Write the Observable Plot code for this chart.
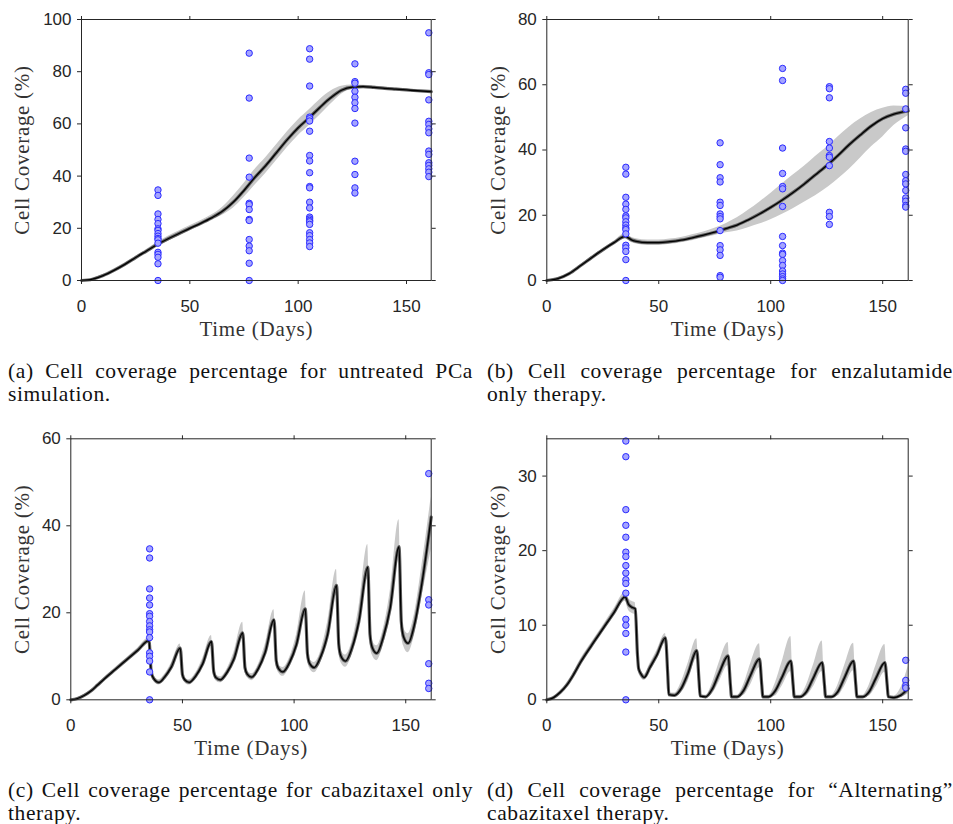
<!DOCTYPE html>
<html>
<head>
<meta charset="utf-8">
<script src="https://cdn.jsdelivr.net/npm/d3@7"></script>
<script src="https://cdn.jsdelivr.net/npm/@observablehq/plot@0.6"></script>
<style>
  body { margin: 0; background: #fff; }
  #wrap { position: relative; width: 953px; height: 824px; overflow: hidden; background: #fff; }
  .panel { position: absolute; }
  .panel svg g[aria-label="text"] text { letter-spacing: 0.7px; }
  .cap { position: absolute; font-family: "Liberation Serif", "Times New Roman", serif; font-size: 21.5px; line-height: 22.5px; color: #111; letter-spacing: 0.6px; }
  .cap .l1 { text-align: justify; text-align-last: justify; }
</style>
</head>
<body>
<div id="wrap"></div>
<script>
// ---------- data ----------
const xTicks = [0, 50, 100, 150];
const yTicksA = [0, 20, 40, 60, 80, 100];
const yTicksB = [0, 20, 40, 60, 80];
const yTicksC = [0, 20, 40, 60];
const yTicksD = [0, 10, 20, 30];

const obsDays = [35.3, 77.4, 105.3, 126.2, 160.3];
const obs35 = [34.7, 32.6, 25.5, 23.4, 21.8, 19.8, 19.2, 18.0, 17.0, 16.1, 15.6, 14.3, 10.8, 10.0, 8.9, 6.4, 0];
const obsA77 = [87.1, 69.9, 46.9, 39.6, 29.6, 29.1, 27.2, 23.4, 23.0, 15.7, 13.2, 11.4, 6.6, 0];
const obsA105 = [88.8, 84.8, 74.5, 62.6, 62.0, 61.1, 57.2, 47.9, 45.8, 41.3, 36.0, 35.5, 30.0, 27.8, 24.3, 23.6, 23.0, 22.5, 21.5, 18.3, 17.2, 15.7, 14.4, 13.0];
const obsA126 = [83.0, 76.2, 75.6, 72.5, 70.2, 68.1, 65.9, 60.3, 45.7, 40.6, 35.5, 33.5];
const obsA160 = [94.9, 79.6, 78.9, 69.2, 61.0, 59.8, 58.1, 56.6, 49.6, 48.3, 45.1, 44.1, 42.8, 41.5, 39.8];
const obsB77 = [42.2, 35.5, 31.5, 30.2, 24.0, 23.0, 20.4, 19.6, 18.9, 15.3, 10.7, 9.4, 7.7, 1.5, 1.0];
const obsB105 = [65.0, 61.3, 40.6, 32.8, 28.8, 28.1, 22.7, 13.5, 10.7, 8.4, 8.0, 6.1, 4.6, 2.9, 2.0, 1.2, 0.5, 0];
const obsB126 = [59.4, 58.8, 56.0, 42.6, 40.6, 38.3, 37.8, 35.2, 20.9, 19.6, 17.2];
const obsB160 = [58.6, 57.4, 52.6, 46.8, 40.3, 39.6, 32.5, 30.6, 29.6, 27.6, 25.3, 24.3, 23.0, 22.5];
const obsC160 = [52.0, 23.0, 21.8, 8.3, 3.8, 2.6];
const obsD160 = [5.3, 2.6, 1.9, 1.6];

// (a) untreated
const timeA = [0,5,10,15,20,25,30,35,40,45,50,55,60,65,70,75,80,85,90,95,100,105,110,115,120,125,130,135,140,145,150,155,161.4];
const meanA = [0,0.5,1.9,3.9,6.2,8.8,11.3,13.8,16.0,18.0,20.0,21.9,24.0,26.5,30.0,34.5,39.5,44.0,49.0,54.0,58.5,62.3,66.3,70.0,72.9,74.1,74.3,74.0,73.6,73.3,73.0,72.7,72.4];
const loA = [0,0.3,1.5,3.4,5.7,8.3,10.7,13.0,15.0,17.0,19.0,20.9,22.9,25.0,27.7,31.8,36.5,41.0,46.0,51.0,55.5,59.3,63.3,67.5,71.4,73.3,73.8,73.5,73.1,72.8,72.5,72.2,71.9];
const hiA = [0,0.7,2.3,4.4,6.7,9.3,11.9,14.6,17.0,19.0,21.0,22.9,25.1,28.0,32.3,37.2,42.5,47.0,52.0,57.0,61.5,65.3,69.3,72.5,74.4,74.9,74.8,74.5,74.1,73.8,73.5,73.2,72.9];

// (b) enzalutamide
const timeB = [0,5,10,15,20,25,30,35,38,40,45,50,55,60,65,70,75,80,85,90,95,100,105,110,115,120,126,130,135,140,145,150,155,161.4];
const meanB = [0,0.6,2.1,4.5,7.0,9.4,11.6,13.5,12.4,12.0,11.6,11.6,11.9,12.4,13.1,13.9,14.8,15.9,17.0,18.6,20.4,22.4,24.6,27.0,29.6,32.4,35.8,38.3,41.6,44.6,47.4,49.6,51.0,52.0];
const loB = [0,0.4,1.8,4.2,6.7,9.1,11.2,12.7,11.6,11.2,10.8,10.8,11.1,11.6,12.2,13.0,13.8,14.6,15.2,16.2,17.3,18.6,20.2,22.0,24.0,26.0,28.8,31.0,34.0,37.5,41.0,44.0,47.5,50.5];
const hiB = [0,0.8,2.4,4.8,7.3,9.7,12.0,14.3,13.2,12.8,12.4,12.4,12.7,13.2,14.0,14.9,16.0,17.4,19.2,21.5,24.0,26.7,29.5,32.3,35.0,38.0,41.4,44.0,47.0,49.5,51.5,52.8,53.5,53.3];

// (c) cabazitaxel only
const timeC = [0,3,6,9,12,15,20,25,30,35, 36,37,39.5,42,45,49, 50,51,53,56,59,63, 64,65,67,70,73,77, 78,79,81,84,87,91, 92,93,95,98,101,105, 106,107,109,112,115,119, 120,121,123,126,129,133, 134,135,137,140,143,147, 148,149,151,154,157,161.4];
const meanC = [0,0.3,1.0,2.0,3.4,4.8,7.0,9.2,11.4,13.6, 6.5,5.0,4.0,5.2,7.5,11.9, 5.8,4.6,4.0,5.5,8.2,13.4, 6.5,5.1,4.6,6.3,9.3,15.4, 7.4,5.9,5.2,7.2,10.8,18.4, 9.0,7.2,6.4,8.6,12.6,20.9, 10.5,8.3,7.4,10.0,15.0,26.3, 12.8,10.0,8.9,12.0,18.0,30.5, 15.0,12.0,10.7,14.5,21.0,35.2, 18.0,14.5,13.0,17.5,26.0,42.0];
const loC = [0,0.2,0.8,1.7,3.1,4.5,6.6,8.8,10.9,13.0, 5.9,4.4,3.4,4.6,6.8,11.0, 5.2,4.0,3.4,4.8,7.4,12.3, 5.8,4.4,3.9,5.5,8.4,14.1, 6.6,5.1,4.4,6.3,9.7,16.9, 8.0,6.3,5.4,7.5,11.3,19.1, 9.3,7.2,6.2,8.7,13.5,24.0, 11.3,8.6,7.5,10.5,16.2,27.8, 13.2,10.3,9.0,12.6,18.8,32.2, 15.8,12.4,10.8,15.0,23.0,34.5];
const hiC = [0,0.4,1.2,2.3,3.7,5.1,7.4,9.6,11.9,14.2, 7.1,5.6,4.6,5.8,8.4,12.8, 6.4,5.2,4.6,6.2,9.4,14.8, 7.2,5.8,5.3,7.1,10.8,17.8, 8.2,6.7,6.0,8.1,12.6,20.7, 10.0,8.1,7.4,9.7,14.8,25.0, 11.7,9.4,8.6,11.3,17.8,30.0, 14.3,11.4,10.3,13.5,21.2,35.7, 16.8,13.7,12.4,16.4,24.8,41.4, 20.2,16.6,15.2,20.0,30.0,46.6];

// (d) alternating cabazitaxel
const timeD = [0,3,6,9,12,15,20,25,30,35, 36.5,38,39.5,40.5,41,42,43.5,46,49,53, 54,54.5,57,60,63,67, 68,68.5,71,74,77,81, 82,82.5,85,88,91,95, 96,96.5,99,102,105,109, 110,110.5,113,116,119,123, 124,124.5,127,130,133,137, 138,138.5,141,144,147,151, 152,152.5,155,158,161.4];
const meanD = [0,0.3,1.0,2.0,3.4,5.0,7.3,9.5,11.7,13.8, 12.8,12.4,12.2,6.0,4.2,3.5,3.0,4.3,5.9,8.3, 3.5,0.7,0.6,1.5,3.5,6.6, 2.5,0.5,0.4,1.5,3.6,5.9, 2.0,0.4,0.4,1.3,3.3,5.5, 2.0,0.4,0.4,1.2,3.0,5.2, 2.0,0.4,0.4,1.1,2.9,5.0, 2.0,0.4,0.4,1.1,3.0,5.2, 2.0,0.4,0.4,1.1,2.9,5.0, 2.0,0.4,0.3,0.6,1.5];
const loD = [0,0.2,0.8,1.7,3.1,4.6,6.9,9.1,11.2,13.2, 12.0,11.6,11.4,5.4,3.7,3.0,2.6,3.8,5.3,7.6, 3.0,0.5,0.4,0.9,2.4,5.5, 2.0,0.3,0.3,0.8,2.4,4.6, 1.6,0.3,0.3,0.6,2.0,4.3, 1.6,0.3,0.3,0.5,1.8,3.8, 1.6,0.3,0.3,0.5,1.7,3.8, 1.6,0.3,0.3,0.5,1.8,3.9, 1.6,0.3,0.3,0.5,1.7,3.7, 1.6,0.3,0.2,0.3,0.8];
const hiD = [0,0.4,1.2,2.3,3.7,5.4,7.7,9.9,12.2,14.4, 13.6,13.2,13.0,6.6,4.7,4.0,3.4,4.8,6.5,8.9, 4.0,0.9,0.9,2.3,4.8,8.2, 3.0,0.7,0.6,2.3,5.0,7.7, 2.4,0.6,0.6,2.1,4.8,7.5, 2.4,0.6,0.6,2.2,5.0,8.5, 2.4,0.6,0.6,2.0,4.6,7.9, 2.4,0.6,0.6,2.0,4.6,7.6, 2.4,0.6,0.6,2.0,4.6,7.4, 2.4,0.6,0.5,1.5,4.5];

const captions = [
  ["(a) Cell coverage percentage for untreated PCa", "simulation."],
  ["(b) Cell coverage percentage for enzalutamide", "only therapy."],
  ["(c) Cell coverage percentage for cabazitaxel only", "therapy."],
  ["(d) Cell coverage percentage for \u201cAlternating\u201d", "cabazitaxel therapy."]
];
const xLabel = "Time (Days)";
const yLabel = "Cell Coverage (%)";

// ---------- drawing ----------
const serif = '"Liberation Serif", "Times New Roman", serif';
const wrap = document.getElementById("wrap");

function makePanel(cfg) {
  const curve = cfg.time.map((t, i) => ({t, m: cfg.mean[i], lo: cfg.lo[i], hi: cfg.hi[i]}));
  const pts = cfg.obs.flatMap(([day, vals]) => vals.map(v => ({t: day, v})));
  const chart = Plot.plot({
    width: cfg.width, height: 340,
    marginLeft: cfg.ml, marginRight: cfg.mr, marginTop: cfg.mt, marginBottom: 340 - cfg.bottom,
    style: {fontFamily: '"Liberation Sans", Arial, sans-serif', fontSize: "17px", color: "#262626", background: "white", overflow: "visible"},
    x: {domain: [0, 161.4]},
    y: {domain: cfg.yDomain},
    marks: [
      Plot.areaY(curve, {x: "t", y1: "lo", y2: "hi", fill: "#c9c9c9", curve: "monotone-x"}),
      Plot.line(curve, {x: "t", y: "m", stroke: "#5e5e5e", strokeWidth: 3.2, curve: "monotone-x"}),
      Plot.line(curve, {x: "t", y: "m", stroke: "#000000", strokeWidth: 1.3, curve: "monotone-x"}),
      Plot.dot(pts, {x: "t", y: "v", r: 3.2, fill: "#a4a4ff", stroke: "#2b2bff", strokeWidth: 1}),
      Plot.frame({stroke: "#262626"}),
      Plot.axisX({anchor: "bottom", ticks: xTicks, tickSize: 4, tickPadding: 15, label: null, color: "#262626"}),
      Plot.axisX({anchor: "top", ticks: xTicks, tickSize: 4, tickFormat: () => "", label: null, color: "#262626"}),
      Plot.axisY({anchor: "left", ticks: cfg.yTicks, tickSize: 4, tickPadding: 6, label: null, color: "#262626"}),
      Plot.axisY({anchor: "right", ticks: cfg.yTicks, tickSize: 4, tickFormat: () => "", label: null, color: "#262626"}),
      Plot.text([yLabel], {frameAnchor: "left", rotate: -90, dx: cfg.labelDx, lineAnchor: "middle", textAnchor: "middle", fontFamily: serif, fontSize: 21, fill: "#333333"}),
      Plot.text([xLabel], {frameAnchor: "bottom", dy: 48.5, lineAnchor: "middle", textAnchor: "middle", fontFamily: serif, fontSize: 21, fill: "#333333"})
    ]
  });
  const div = document.createElement("div");
  div.className = "panel";
  div.style.left = cfg.left + "px";
  div.style.top = cfg.top + "px";
  div.appendChild(chart);
  wrap.appendChild(div);
}

function makeCaption(lines, left, top, width) {
  const d = document.createElement("div");
  d.className = "cap";
  d.style.left = left + "px";
  d.style.top = top + "px";
  d.style.width = width + "px";
  const l1 = document.createElement("div"); l1.className = "l1"; l1.textContent = lines[0];
  const l2 = document.createElement("div"); l2.textContent = lines[1];
  d.appendChild(l1); d.appendChild(l2);
  wrap.appendChild(d);
}

makePanel({left: 0, top: 0, width: 476, ml: 81, mr: 45.3, mt: 19, bottom: 280, labelDx: -59.3,
  time: timeA, mean: meanA, lo: loA, hi: hiA, yDomain: [0, 100], yTicks: yTicksA,
  obs: [[obsDays[0], obs35], [obsDays[1], obsA77], [obsDays[2], obsA105], [obsDays[3], obsA126], [obsDays[4], obsA160]]});
makePanel({left: 476, top: 0, width: 477, ml: 70.3, mr: 45.3, mt: 19, bottom: 280, labelDx: -48.6,
  time: timeB, mean: meanB, lo: loB, hi: hiB, yDomain: [0, 80], yTicks: yTicksB,
  obs: [[obsDays[0], obs35], [obsDays[1], obsB77], [obsDays[2], obsB105], [obsDays[3], obsB126], [obsDays[4], obsB160]]});
makePanel({left: 0, top: 420, width: 476, ml: 70.3, mr: 45.3, mt: 18.3, bottom: 279.3, labelDx: -48.6,
  time: timeC, mean: meanC, lo: loC, hi: hiC, yDomain: [0, 60], yTicks: yTicksC,
  obs: [[obsDays[0], obs35], [obsDays[4], obsC160]]});
makePanel({left: 476, top: 420, width: 477, ml: 70.3, mr: 45.3, mt: 18.3, bottom: 279.3, labelDx: -48.6,
  time: timeD, mean: meanD, lo: loD, hi: hiD, yDomain: [0, 35], yTicks: yTicksD,
  obs: [[obsDays[0], obs35], [obsDays[4], obsD160]]});

makeCaption(captions[0], 8, 360, 465);
makeCaption(captions[1], 487, 360, 466);
makeCaption(captions[2], 8, 779, 465);
makeCaption(captions[3], 487, 779, 466);
</script>
</body>
</html>
